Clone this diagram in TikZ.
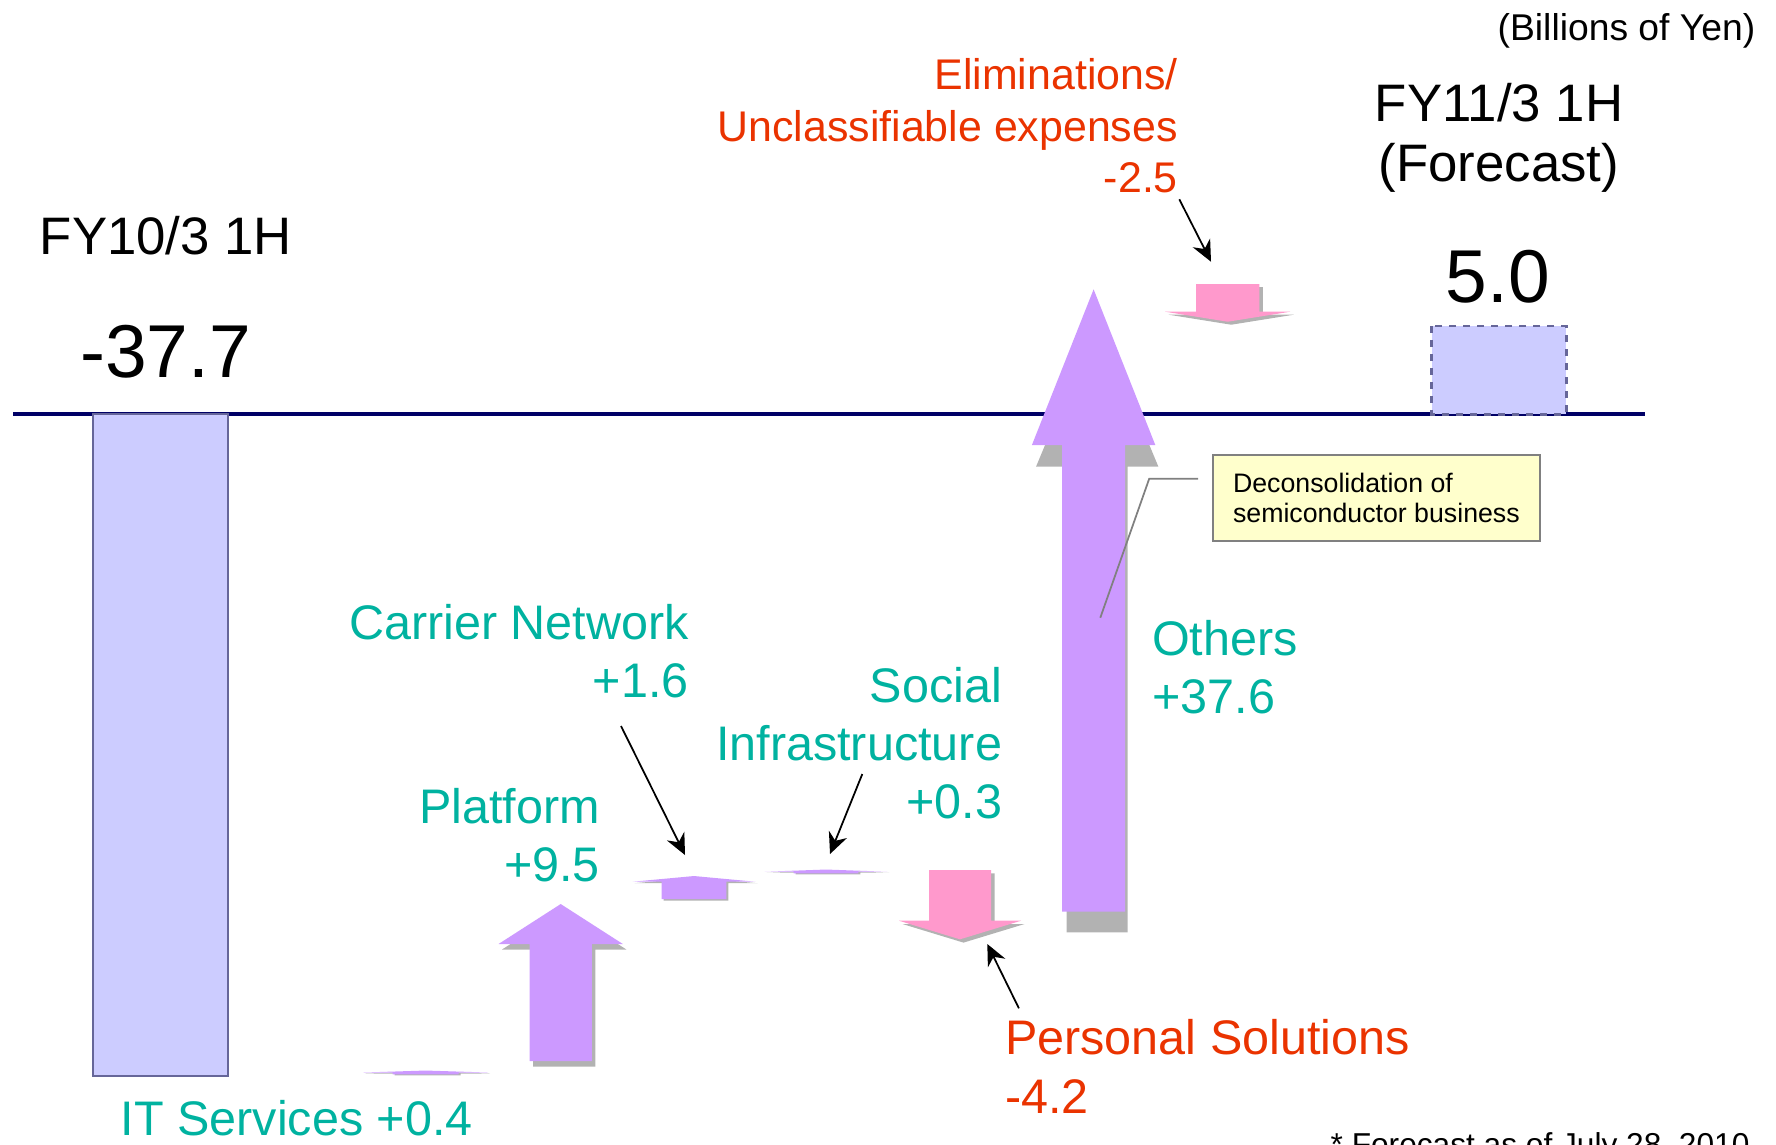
\documentclass[tikz,border=0pt]{standalone}
\usepackage{fontspec}
\setmainfont{Liberation Sans}
\usetikzlibrary{arrows.meta}

\definecolor{segteal}{RGB}{0,178,160}
\definecolor{segred}{RGB}{234,51,0}
\definecolor{uppurple}{RGB}{204,153,255}
\definecolor{downpink}{RGB}{255,153,204}
\definecolor{shadowgray}{RGB}{178,178,178}
\definecolor{barfill}{RGB}{204,204,255}
\definecolor{barline}{RGB}{102,102,153}
\definecolor{axisnavy}{RGB}{0,0,102}
\definecolor{notefill}{RGB}{255,255,204}

% block arrow: [style] centre x, half shaft, half head, shaft end y, head base y, tip y
\newcommand{\blockarrow}[7][]{%
    \fill[#1] ({#2-#3},#5) -- ({#2-#3},#6) -- ({#2-#4},#6) -- (#2,#7)
        -- ({#2+#4},#6) -- ({#2+#3},#6) -- ({#2+#3},#5) -- cycle;}

\begin{document}
\begin{tikzpicture}[x=0.01cm, y=-0.01cm,
    seglabel/.style={text=segteal, inner sep=0pt, font=\fontsize{13.8pt}{16.5pt}\selectfont},
    neglabel/.style={text=segred, inner sep=0pt, font=\fontsize{13.8pt}{16.6pt}\selectfont},
    period/.style={inner sep=0pt, font=\fontsize{15pt}{16.9pt}\selectfont},
    bignum/.style={inner sep=0pt, font=\fontsize{21.3pt}{24pt}\selectfont},
    pointer/.style={-{Stealth[length=6pt, width=5.5pt]}, line width=0.5pt},
    leader/.style={gray, line width=0.5pt}]
    \useasboundingbox (0,0) rectangle (1776,1144);

    % Zero line and start / end bars
    \draw[axisnavy, line width=1.2pt] (13.3,414.3) -- (1645,414.3);
    \draw[barline, fill=barfill, line width=0.6pt] (92.7,414.3) rectangle (227.7,1076);
    \draw[barline, fill=barfill, line width=0.8pt, dash pattern=on 2pt off 2pt]
        (1431.7,326) rectangle (1566.4,414.3);

    % Shadows of the block arrows
    \foreach \x/\hs/\hh/\yb/\yh/\yt/\dx/\dy in {
        425.6/33/62.5/1074.3/1072.5/1070.5/2/1,
        560.7/31.1/62.2/1061/944/904/3.5/5.5,
        694/32.3/61.5/899/881.7/876/2/1.5,
        826/32.3/61.3/873.3/871.7/869.5/2/1,
        960/31/61/870/920.7/939.3/3.5/3.3,
        1227.7/31.7/62.5/284/311.7/321.7/3.5/3} {
        \blockarrow[shadowgray, shift={(\dx,\dy)}]{\x}{\hs}{\hh}{\yb}{\yh}{\yt}
    }
    \blockarrow[shadowgray]{1097.2}{30.5}{61.2}{932.3}{466.7}{320}

    % Increases
    \foreach \x/\hs/\hh/\yb/\yh/\yt in {
        425.6/33/62.5/1074.3/1072.5/1070.5,
        560.7/31.1/62.2/1061/944/904,
        694/32.3/61.5/899/881.7/876,
        826/32.3/61.3/873.3/871.7/869.5,
        1093.6/31.5/61.7/911.7/445/289.3} {
        \blockarrow[uppurple]{\x}{\hs}{\hh}{\yb}{\yh}{\yt}
    }

    % Decreases
    \blockarrow[downpink]{960}{31}{61}{870}{920.7}{939.3}
    \blockarrow[downpink]{1227.7}{31.7}{62.5}{284}{311.7}{321.7}

    % Period totals
    \node[period, anchor=base] (fy10) at (166,254.3) {FY10/3 1H};
    \node[bignum, anchor=base] (val10) at (165.5,377.3) {-37.7};
    \node[period, anchor=base, align=center] (fy11) at (1499,181) {FY11/3 1H\\(Forecast)};
    \node[bignum, anchor=base] (val11) at (1498,302) {5.0};
    \node[inner sep=0pt, font=\fontsize{10.6pt}{12pt}\selectfont, anchor=base east]
        (unit) at (1756,40) {(Billions of Yen)};

    % Segment labels
    \node[seglabel, anchor=base east] (its) at (473.5,1135) {IT Services +0.4};
    \node[seglabel, anchor=base east, align=right] (plat) at (600.5,881.7) {Platform\\+9.5};
    \node[seglabel, anchor=base east, align=right] (carr) at (689.5,697.3) {Carrier Network\\+1.6};
    \node[seglabel, anchor=base east, align=right] (soc) at (1002.7,818.3) {Social\\Infrastructure\\+0.3};
    \node[seglabel, anchor=base west, align=left] (oth) at (1151.5,713.3) {Others\\+37.6};
    \node[neglabel, anchor=base west, align=left] (pers) at (1004.5,1113.3) {Personal Solutions\\-4.2};
    \node[neglabel, anchor=base east, align=right, font=\fontsize{12.2pt}{14.7pt}\selectfont]
        (elim) at (1178.5,192.7) {Eliminations/\\Unclassifiable expenses\\-2.5};

    % Note on Others
    \node[draw=gray, fill=notefill, line width=0.6pt, align=left, inner sep=0pt,
        minimum width=3.264cm, minimum height=0.857cm,
        font=\fontsize{7.6pt}{8.8pt}\selectfont] (note) at (1376.4,497.9)
        {Deconsolidation of\\semiconductor business};
    \coordinate (lead-a) at (1198.2,478.7);
    \coordinate (lead-b) at (1149.2,478.7);
    \coordinate (lead-c) at (1100.3,617.7);
    \draw[leader] (lead-a) -- (lead-b) -- (lead-c);

    % Pointers from labels to small arrows
    \coordinate (elim-from) at (1179.3,199.3);
    \coordinate (elim-to) at (1211,261.7);
    \coordinate (carr-from) at (621,726);
    \coordinate (carr-to) at (685,855);
    \coordinate (soc-from) at (862.3,774);
    \coordinate (soc-to) at (830,854);
    \coordinate (pers-from) at (1018.9,1008.3);
    \coordinate (pers-to) at (987.3,944);
    \foreach \p in {elim,carr,soc,pers} {
        \draw[pointer] (\p-from) -- (\p-to);
    }

    % Footnote (cut by the page edge)
    \node[inner sep=0pt, font=\fontsize{9pt}{11pt}\selectfont, anchor=base west]
        (foot) at (1330,1155) {* Forecast as of July 28, 2010};
\end{tikzpicture}
\end{document}
